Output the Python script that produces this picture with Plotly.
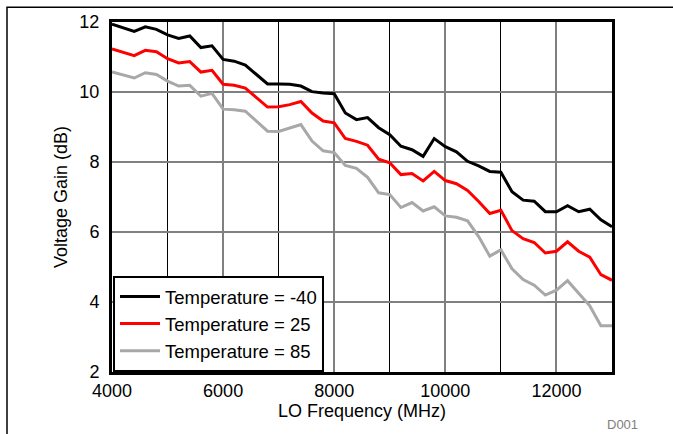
import plotly.graph_objects as go

freq_mhz = list(range(4000, 13001, 200))

gain_m40 = [11.94, 11.84, 11.73, 11.86, 11.79, 11.63, 11.53, 11.60, 11.27, 11.32,
            10.93, 10.88, 10.77, 10.50, 10.23, 10.23, 10.22, 10.17, 10.01, 9.97,
            9.95, 9.40, 9.21, 9.27, 8.98, 8.78, 8.45, 8.35, 8.16, 8.67,
            8.44, 8.29, 8.02, 7.89, 7.73, 7.71, 7.15, 6.91, 6.88, 6.58,
            6.58, 6.75, 6.58, 6.65, 6.35, 6.15]

gain_25 = [11.23, 11.14, 11.04, 11.19, 11.15, 10.95, 10.83, 10.87, 10.57, 10.62,
           10.22, 10.19, 10.11, 9.84, 9.57, 9.58, 9.64, 9.73, 9.40, 9.17,
           9.12, 8.67, 8.59, 8.48, 8.08, 7.98, 7.64, 7.67, 7.46, 7.73,
           7.47, 7.38, 7.19, 6.87, 6.53, 6.62, 6.04, 5.81, 5.70, 5.40,
           5.45, 5.72, 5.45, 5.28, 4.78, 4.62]

gain_85 = [10.57, 10.48, 10.40, 10.55, 10.50, 10.31, 10.17, 10.19, 9.88, 9.96,
           9.51, 9.49, 9.45, 9.17, 8.88, 8.87, 8.96, 9.07, 8.60, 8.32,
           8.27, 7.90, 7.82, 7.56, 7.12, 7.07, 6.70, 6.84, 6.60, 6.72,
           6.46, 6.42, 6.32, 5.87, 5.31, 5.49, 4.95, 4.64, 4.48, 4.20,
           4.34, 4.61, 4.25, 3.89, 3.32, 3.32]

series_names = ["Temperature = -40", "Temperature = 25", "Temperature = 85"]
series_colors = ["#000000", "#FF0000", "#A8A8A8"]
x_ticks = [4000, 6000, 8000, 10000, 12000]
y_ticks = [2, 4, 6, 8, 10, 12]

FONT = "Arial, Liberation Sans, sans-serif"

fig = go.Figure()
for name, ys, col in zip(series_names, [gain_m40, gain_25, gain_85], series_colors):
    fig.add_trace(go.Scatter(x=freq_mhz, y=ys, mode="lines", name=name,
                             line=dict(color=col, width=3)))

W, H = 673, 434
L, R, T, B = 112, 61, 18, 62
pw, ph = W - L - R, H - T - B

fig.update_layout(
    width=W, height=H,
    margin=dict(l=L, r=R, t=T, b=B, pad=0),
    paper_bgcolor="white", plot_bgcolor="white",
    font=dict(family=FONT, size=18, color="black"),
    showlegend=True,
    legend=dict(x=0.002, y=0.0, xanchor="left", yanchor="bottom",
                bordercolor="black", borderwidth=2, bgcolor="white",
                font=dict(size=18.5), tracegroupgap=0, itemwidth=40),
    xaxis=dict(range=[4000, 13000], tickvals=x_ticks,
               ticktext=[str(v) for v in x_ticks],
               showgrid=True, gridcolor="#808080", gridwidth=2,
               minor=dict(dtick=1000, showgrid=True, gridcolor="black", gridwidth=1, ticks=""),
               showline=True, linecolor="black", linewidth=3, mirror=True,
               ticks="", zeroline=False,
               title=dict(text="LO Frequency (MHz)", standoff=2, font=dict(size=18))),
    yaxis=dict(range=[2, 12], tickvals=y_ticks,
               showgrid=True, gridcolor="#808080", gridwidth=2,
               showline=True, linecolor="black", linewidth=3, mirror=True,
               ticks="", zeroline=False, ticklabelstandoff=6,
               title=dict(text="Voltage Gain (dB)", standoff=8, font=dict(size=18))),
    shapes=[dict(type="rect", xref="paper", yref="paper",
                 x0=(7 - L) / pw, x1=(W + 10 - L) / pw,
                 y0=-(H + 10 - (T + ph)) / ph, y1=(T + ph - 3) / ph,
                 line=dict(color="black", width=1.5), fillcolor="rgba(0,0,0,0)",
                 layer="below")],
    annotations=[dict(text="D001", xref="paper", yref="paper",
                      x=(640 - L) / pw, y=-(425 - (T + ph)) / ph,
                      xanchor="right", yanchor="middle", showarrow=False,
                      font=dict(size=13, color="#808080"))],
)

fig.write_html("out.html", config={"displayModeBar": False},
               post_script="document.body.style.margin='0px';document.body.style.overflow='hidden';")
